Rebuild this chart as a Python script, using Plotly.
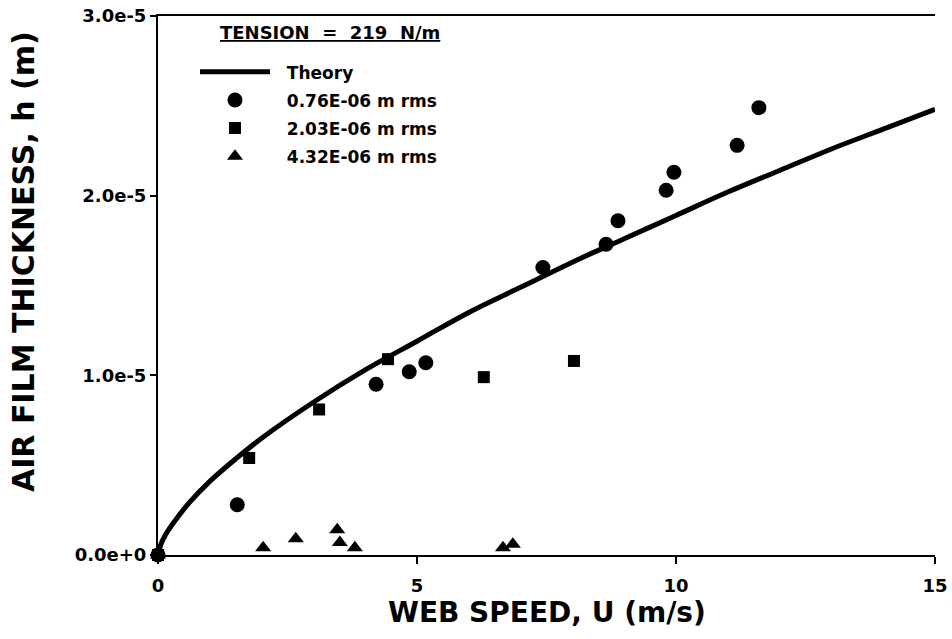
import plotly.graph_objects as go

# Theory curve
theory_u = [0, 0.05, 0.15, 0.3, 0.6, 1, 1.5, 2, 3, 4, 5, 6, 7, 8, 9, 10, 11, 12, 13, 14, 15]
theory_h = [0, 0.055e-5, 0.115e-5, 0.18e-5, 0.29e-5, 0.41e-5, 0.535e-5, 0.65e-5, 0.85e-5,
            1.03e-5, 1.19e-5, 1.35e-5, 1.49e-5, 1.63e-5, 1.76e-5, 1.89e-5, 2.02e-5,
            2.14e-5, 2.26e-5, 2.37e-5, 2.48e-5]

# 0.76E-06 m rms (circles)
c_u = [0, 1.53, 4.21, 4.85, 5.17, 7.43, 8.65, 8.88, 9.81, 9.96, 11.18, 11.60]
c_h = [0, 0.28e-5, 0.95e-5, 1.02e-5, 1.07e-5, 1.60e-5, 1.73e-5, 1.86e-5, 2.03e-5,
       2.13e-5, 2.28e-5, 2.49e-5]

# 2.03E-06 m rms (squares)
s_u = [0, 1.76, 3.11, 4.44, 6.29, 8.03]
s_h = [0, 0.54e-5, 0.81e-5, 1.09e-5, 0.99e-5, 1.08e-5]

# 4.32E-06 m rms (triangles)
t_u = [0, 2.03, 2.66, 3.46, 3.51, 3.80, 6.66, 6.85]
t_h = [0, 0.04e-5, 0.09e-5, 0.14e-5, 0.07e-5, 0.04e-5, 0.04e-5, 0.06e-5]

x_ticks = [0, 5, 10, 15]
x_ticktext = ["0", "5", "10", "15"]
y_ticks = [0, 1e-5, 2e-5, 3e-5]
y_ticktext = ["0.0e+0", "1.0e-5", "2.0e-5", "3.0e-5"]

legend_title = "TENSION\u00a0\u00a0=\u00a0\u00a0219\u00a0\u00a0N/m"
series_names = ["Theory", "0.76E-06 m rms", "2.03E-06 m rms", "4.32E-06 m rms"]

FONT = "DejaVu Sans"
PAD = "\u00a0\u00a0"

fig = go.Figure()
fig.add_trace(go.Scatter(x=theory_u, y=theory_h, mode="lines", name=PAD + series_names[0],
                         line=dict(color="black", width=5, shape="spline"),
                         legendgroup="a", cliponaxis=False))
fig.add_trace(go.Scatter(x=c_u, y=c_h, mode="markers", name=PAD + series_names[1],
                         marker=dict(symbol="circle", size=15, color="black"),
                         legendgroup="b", cliponaxis=False))
fig.add_trace(go.Scatter(x=s_u, y=s_h, mode="markers", name=PAD + series_names[2],
                         marker=dict(symbol="square", size=12, color="black"),
                         legendgroup="c", cliponaxis=False))
fig.add_trace(go.Scatter(x=t_u, y=t_h, mode="markers", name=PAD + series_names[3],
                         marker=dict(symbol="triangle-up", size=14, color="black"),
                         legendgroup="d", cliponaxis=False))

fig.update_layout(
    width=952, height=639,
    margin=dict(l=158, r=17, t=16, b=84),
    paper_bgcolor="white", plot_bgcolor="white",
    font=dict(family=FONT, color="black"),
    showlegend=True,
    legend=dict(
        x=(195 - 158) / 777, y=(555 - 113.5) / 540, xanchor="left", yanchor="middle",
        bgcolor="rgba(0,0,0,0)",
        font=dict(family=FONT, size=17, weight="bold", color="black"),
        itemwidth=70, tracegroupgap=3,
    ),
    xaxis=dict(range=[0, 15], showgrid=False, zeroline=False, automargin=False,
               showline=True, linecolor="black", linewidth=2, mirror=True,
               ticks="outside", ticklen=7, tickwidth=2, tickcolor="black",
               tickvals=x_ticks, ticktext=x_ticktext, ticklabelstandoff=6,
               tickfont=dict(family=FONT, size=18, weight="bold")),
    yaxis=dict(range=[0, 3e-5], showgrid=False, zeroline=False, automargin=False,
               showline=True, linecolor="black", linewidth=2,
               ticks="outside", ticklen=6, tickwidth=2, tickcolor="black",
               tickvals=y_ticks, ticktext=y_ticktext,
               tickfont=dict(family=FONT, size=18, weight="bold")),
    annotations=[
        dict(text=legend_title, x=(330 - 158) / 777, y=(555 - 32) / 540,
             xref="paper", yref="paper", xanchor="center", yanchor="middle",
             showarrow=False,
             font=dict(family=FONT, size=18, weight="bold", lineposition="under")),
        dict(text="WEB SPEED, U (m/s)", x=0.5, y=0, xref="paper", yref="paper",
             xanchor="center", yanchor="middle", yshift=-57, showarrow=False,
             font=dict(family=FONT, size=28, weight="bold")),
        dict(text="AIR FILM THICKNESS, h (m)", x=0, y=(555 - 261) / 540, xref="paper",
             yref="paper", xanchor="center", yanchor="middle", xshift=-134.5,
             textangle=-90, showarrow=False,
             font=dict(family=FONT, size=30, weight="bold")),
    ],
)

fig.write_html("out.html")
